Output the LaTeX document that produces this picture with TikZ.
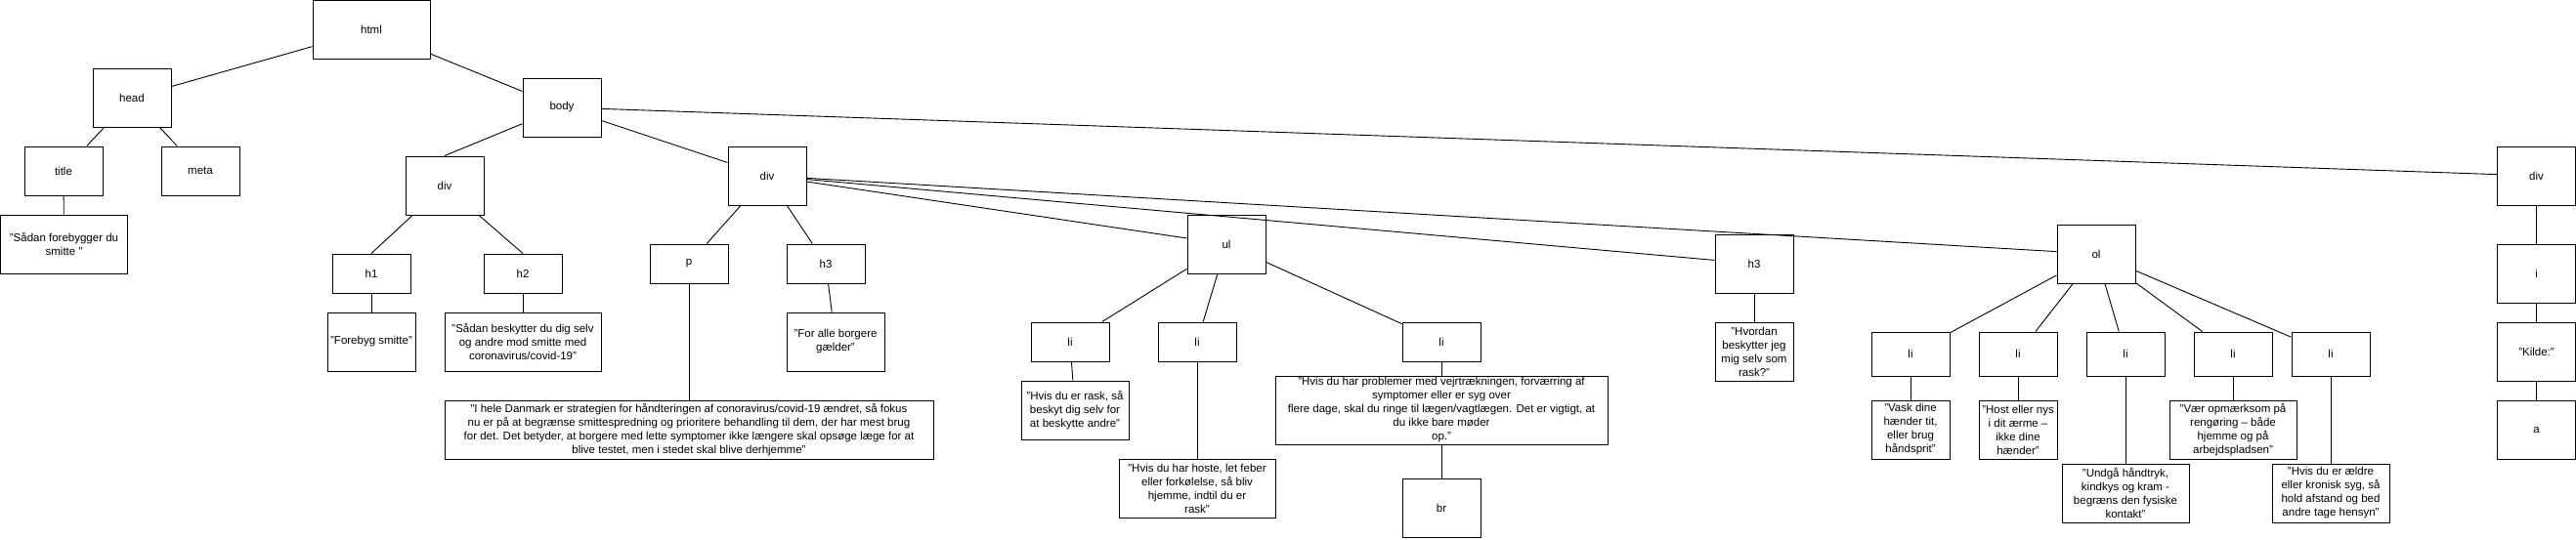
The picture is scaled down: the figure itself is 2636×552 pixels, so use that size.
\documentclass[tikz,border=0pt]{standalone}
\usepackage{fontspec}
\setmainfont{Liberation Sans}
\usetikzlibrary{shapes}
\tikzset{
	domnode/.style = {
		align=center,
		inner sep=0pt,
		text centered,
		font=\fontsize{11.5}{14}\selectfont,
		rectangle,
		draw=black,
		line width=1pt,
		minimum width=80
	},
	node_tag/.style = {
		domnode,
		minimum height=40
	},
	node_tag_high/.style = {
		domnode,
		minimum height=60
	},
	node_li/.style = {
		domnode,
		minimum height=45
	},
	node_txt/.style = {
		domnode,
		minimum height=60
	},
}

\begin{document}
\begin{tikzpicture}[x=1pt, y=-1pt, line width=0.9pt]
\useasboundingbox (0,0) rectangle (2636,552);
% head
\node [node_tag_high, minimum width=120] (html) at (380,30.5) {html};
\node [node_tag_high] (head) at (135,100) {head};
\node [node_tag, minimum height=50] (title) at (65,175) {title};
\node [node_tag, minimum height=50] (meta) at (205,175) {meta};
\node [node_txt, minimum width=130] (t_title) at (65.5,250) {"Sådan forebygger du\\smitte "};
% body, first div
\node [node_tag_high] (body) at (575,110) {body};
\node [node_tag_high] (div_a) at (455,190) {div};
\node [node_tag] (h1) at (380,280) {h1};
\node [node_tag] (h2) at (535,280) {h2};
\node [node_txt, minimum width=90] (t_h1) at (380,350) {"Forebyg smitte"};
\node [node_txt, minimum width=160] (t_h2) at (535,350) {"Sådan beskytter du dig selv\\og andre mod smitte med\\coronavirus/covid-19"};
% second div
\node [node_tag_high] (div_b) at (785,180) {div};
\node [node_tag] (p) at (705,270) {p};
\node [node_tag] (h3_a) at (845,270) {h3};
\node [node_txt, minimum width=500] (t_p) at (705,440) {"I hele Danmark er strategien for håndteringen af conoravirus/covid-19 ændret, så fokus\\nu er på at begrænse smittespredning og prioritere behandling til dem, der har mest brug\\for det. Det betyder, at borgere med lette symptomer ikke længere skal opsøge læge for at\\blive testet, men i stedet skal blive derhjemme"};
\node [node_txt, minimum width=100] (t_h3_a) at (855,350) {"For alle borgere\\gælder"};
\node [node_tag_high] (ul) at (1255,250) {ul};
\node [node_tag] (li_a) at (1095,350) {li};
\node [node_tag] (li_b) at (1225,350) {li};
\node [node_tag] (li_c) at (1475,350) {li};
\node [node_txt, minimum width=110] (t_li_a) at (1100,420) {"Hvis du er rask, så\\beskyt dig selv for\\at beskytte andre"};
\node [node_txt, minimum width=160] (t_li_b) at (1225,500) {"Hvis du har hoste, let feber\\eller forkølelse, så bliv\\hjemme, indtil du er\\rask"};
\node [node_txt, minimum width=340, minimum height=70] (t_li_c) at (1475,420) {"Hvis du har problemer med vejrtrækningen, forværring af\\symptomer eller er syg over\\flere dage, skal du ringe til lægen/vagtlægen. Det er vigtigt, at\\du ikke bare møder\\op."};
\node [node_tag_high] (br) at (1475,520) {br};
\node [node_tag_high] (h3_b) at (1795,270) {h3};
\node [node_txt] (t_h3_b) at (1795,360) {"Hvordan\\beskytter jeg\\mig selv som\\rask?"};
\node [node_tag_high] (ol) at (2145,260) {ol};
\node [node_li] (li_d) at (1955,362.5) {li};
\node [node_li] (li_e) at (2065,362.5) {li};
\node [node_li] (li_f) at (2175,362.5) {li};
\node [node_li] (li_g) at (2285,362.5) {li};
\node [node_li] (li_h) at (2385,362.5) {li};
\node [node_txt] (t_li_d) at (1955,440) {"Vask dine\\hænder tit,\\eller brug\\håndsprit"};
\node [node_txt] (t_li_e) at (2065,440) {"Host eller nys\\i dit ærme –\\ikke dine\\hænder"};
\node [node_txt, minimum width=130] (t_li_f) at (2175,505) {"Undgå håndtryk,\\kindkys og kram -\\begræns den fysiske\\kontakt"};
\node [node_txt, minimum width=130] (t_li_g) at (2285,440) {"Vær opmærksom på\\rengøring – både\\hjemme og på\\arbejdspladsen"};
\node [node_txt, minimum width=120] (t_li_h) at (2385,505) {"Hvis du er ældre\\eller kronisk syg, så\\hold afstand og bed\\andre tage hensyn"};
% third div
\node [node_tag_high] (div_c) at (2595.5,180) {div};
\node [node_tag_high] (i) at (2595.5,280) {i};
\node [node_txt] (t_i) at (2595.5,360) {"Kilde:"};
\node [node_txt] (a) at (2595.5,440) {a};

\draw (html) -- (head);
\draw (html) -- (body);
\draw (head) -- (title);
\draw (head) -- (meta);
\draw (title) -- (t_title);
\draw (body) -- (div_a.north);
\draw (body) -- (div_b);
\draw (body) -- (div_c);
\draw (div_a) -- (h1.north);
\draw (div_a) -- (h2.north);
\draw (h1) -- (t_h1);
\draw (h2) -- (t_h2);
\draw (div_b) -- (p);
\draw (div_b) -- (h3_a);
\draw (div_b) -- (ul);
\draw (div_b) -- (h3_b);
\draw (div_b) -- (ol);
\draw (p) -- (t_p);
\draw (h3_a) -- (t_h3_a);
\draw (ul) -- (li_a);
\draw (ul) -- (li_b);
\draw (ul) -- (li_c);
\draw (li_a) -- (t_li_a);
\draw (li_b) -- (t_li_b);
\draw (li_c) -- (t_li_c);
\draw (t_li_c) -- (br);
\draw (h3_b) -- (t_h3_b);
\foreach \n in {d,e,f,g,h} {
	\draw (ol) -- (li_\n);
	\draw (li_\n) -- (t_li_\n);
}
\draw (div_c) -- (i);
\draw (i) -- (t_i);
\draw (t_i) -- (a);
\end{tikzpicture}
\end{document}
